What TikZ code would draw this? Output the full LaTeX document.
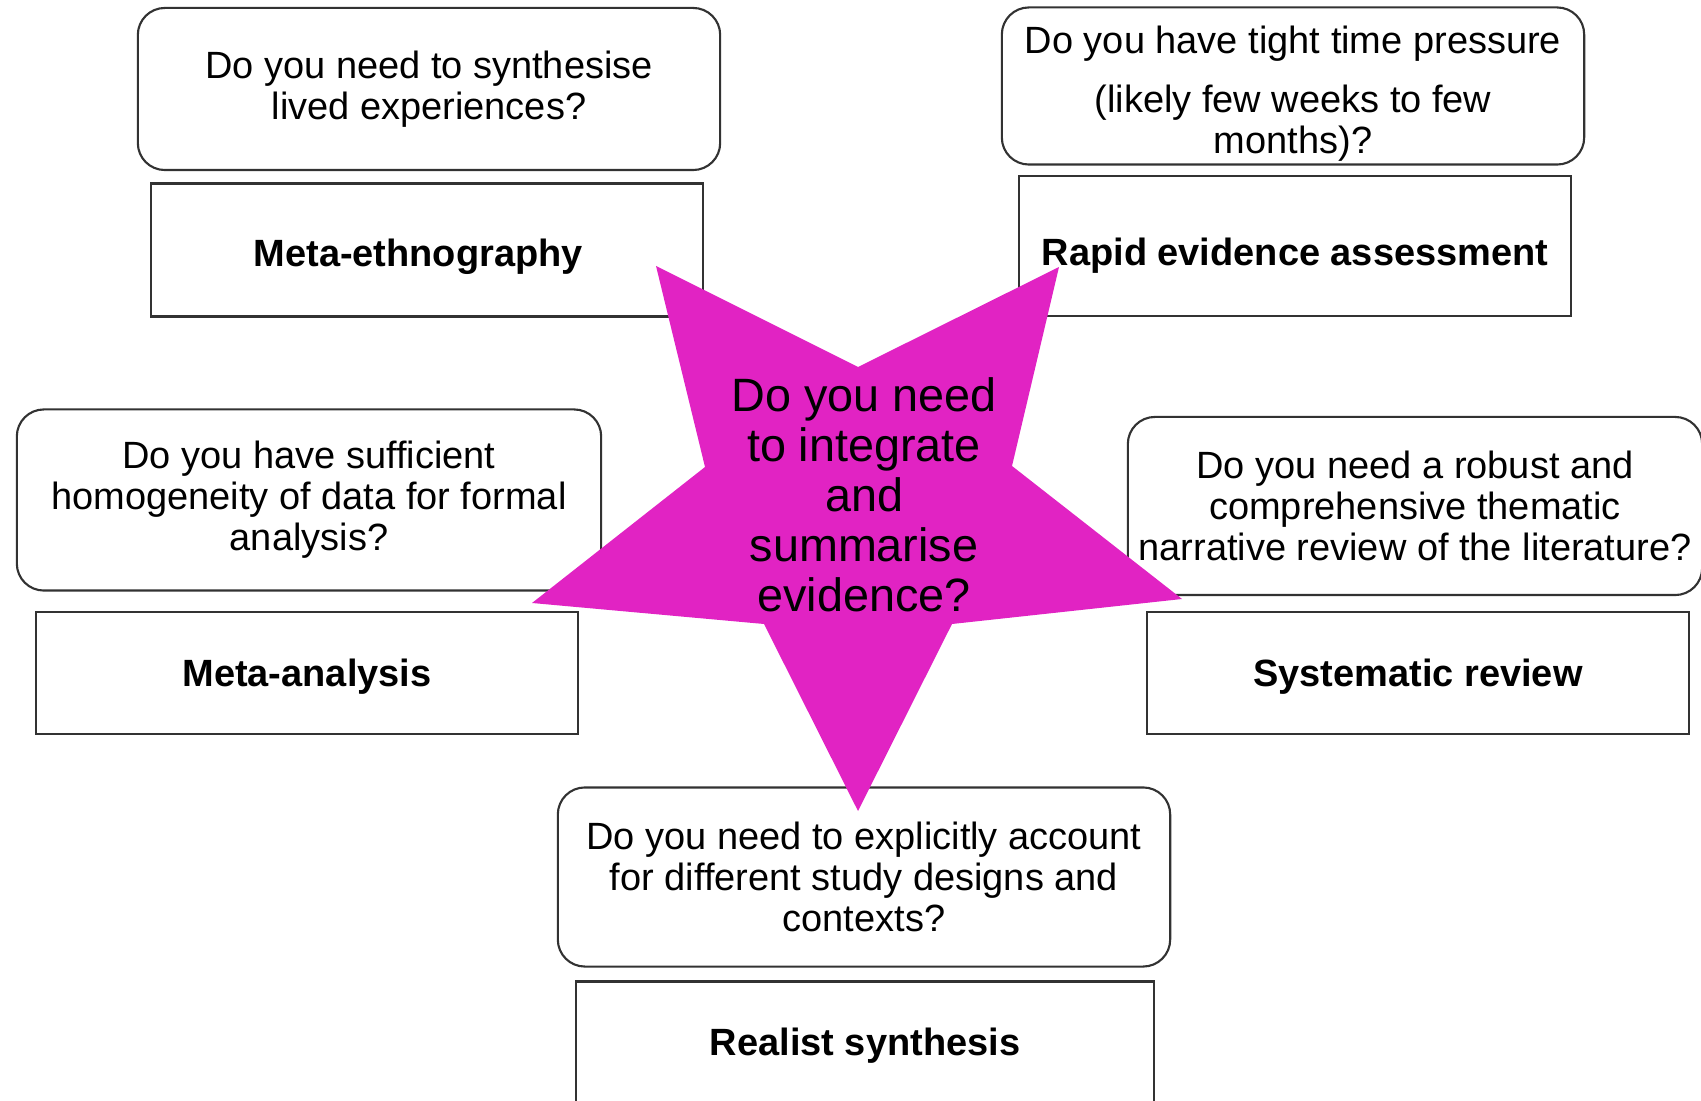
\documentclass[tikz,border=0pt]{standalone}
\usepackage{fontspec}
\setmainfont{Liberation Sans}
\usepackage{tikz}
\usetikzlibrary{positioning}

\definecolor{starpink}{RGB}{225,35,195}
\definecolor{boxline}{RGB}{50,50,50}

\tikzset{
  question/.style={draw=boxline, line width=0.6pt, rounded corners=0.27cm,
    align=center, inner sep=0pt, font=\fontsize{10.8}{11.7}\selectfont},
  method/.style={draw=boxline, line width=0.6pt, rectangle, text depth=0pt,
    align=center, inner sep=0pt, font=\fontsize{10.8}{11.7}\selectfont\bfseries},
  startext/.style={align=center, inner sep=0pt, font=\fontsize{13.3}{14.2}\selectfont}
}

\begin{document}
\begin{tikzpicture}[x=0.01cm, y=-0.01cm]
  \useasboundingbox (0,0) rectangle (1701,1101);

  % questions and the method each one points to
  \node[question, minimum width=5.82cm, minimum height=1.62cm] (q-lived) at (429,89)
    {Do you need to synthesise\\lived experiences?};
  \node[method, minimum width=5.52cm, minimum height=1.33cm, text height=9.2pt] (m-lived) at (427,250)
    {Meta-ethnography\kern5pt};

  \node[question, minimum width=5.82cm, minimum height=1.57cm] (q-time) at (1293,86)
    {\rule{0pt}{12.3pt}Do you have tight time pressure\\[5pt](likely few weeks to few\\months)?};
  \node[method, minimum width=5.52cm, minimum height=1.40cm, text height=11.2pt] (m-time) at (1295,246)
    {Rapid evidence assessment};

  \node[question, minimum width=5.84cm, minimum height=1.81cm] (q-homog) at (309,500)
    {Do you have sufficient\\homogeneity of data for formal\\analysis?};
  \node[method, minimum width=5.42cm, minimum height=1.22cm] (m-homog) at (307,673)
    {Meta-analysis};

  \node[question, minimum width=5.74cm, minimum height=1.78cm] (q-robust) at (1415,506)
    {Do you need a robust and\\comprehensive thematic\\narrative review of the literature?};
  \node[method, minimum width=5.41cm, minimum height=1.22cm] (m-robust) at (1418,673)
    {Systematic review};

  \node[question, minimum width=6.12cm, minimum height=1.79cm] (q-context) at (864,877)
    {Do you need to explicitly account\\for different study designs and\\contexts?};
  \node[method, minimum width=5.77cm, minimum height=1.21cm] (m-context) at (865,1042)
    {Realist synthesis};

  % the star on top
  \fill[starpink] (656,266) -- (858,367) -- (1059,267) -- (1012,466) -- (1182,599)
    -- (952,624) -- (858,811) -- (764,624) -- (532,603) -- (705,467) -- cycle;
  \node[startext] (centre) at (864,495)
    {Do you need\\to integrate\\and\\summarise\\evidence?};
\end{tikzpicture}
\end{document}
